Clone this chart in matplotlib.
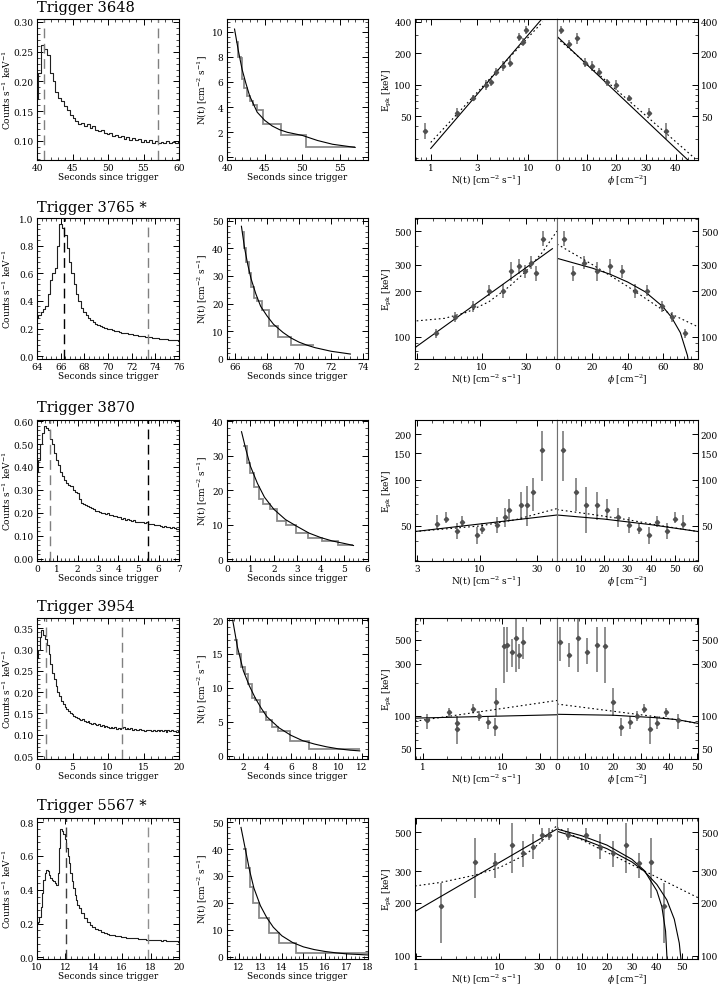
import numpy as np
import matplotlib
matplotlib.use('Agg')
import matplotlib.pyplot as plt
from matplotlib.ticker import (FixedLocator, AutoMinorLocator, LogLocator,
                               NullFormatter, FormatStrFormatter, FuncFormatter)

plt.rcParams['font.family'] = 'DejaVu Serif'
plt.rcParams['mathtext.fontset'] = 'dejavuserif'

titles = ['Trigger 3648', 'Trigger 3765 *', 'Trigger 3870', 'Trigger 3954', 'Trigger 5567 *']

# ---- light curves (counts s^-1 keV^-1) ----
lc1_t = 40.0 + 0.4 * np.arange(51)
lc1_v = [.170, .215, .262, .255, .245, .215, .200, .182, .172, .168, .158, .152, .143,
         .138, .133, .128, .131, .125, .128, .122, .125, .119, .117, .119, .113, .111,
         .113, .108, .110, .106, .108, .104, .106, .102, .105, .101, .103, .099, .102,
         .098, .101, .097, .100, .096, .099, .097, .100, .096, .099, .097, .099]
lc2_t = 64.0 + 0.2 * np.arange(61)
lc2_v = [.28, .30, .32, .34, .36, .45, .55, .60, .64, .80, .96, .93, .88, .78, .68, .60,
         .52, .45, .40, .35, .32, .295, .275, .26, .245, .235, .225, .22, .21, .205, .20,
         .195, .19, .185, .18, .175, .17, .168, .165, .16, .158, .156, .154, .15, .148,
         .145, .142, .14, .138, .135, .132, .13, .128, .126, .124, .122, .12, .118, .116,
         .114, .112]
lc3_t = 0.1 * np.arange(71)
lc3_v = [.38, .43, .50, .55, .58, .57, .56, .52, .50, .46, .43, .41, .38, .36, .345, .33,
         .32, .315, .30, .29, .285, .26, .245, .24, .235, .23, .225, .22, .215, .21, .21,
         .205, .20, .20, .195, .20, .19, .19, .185, .185, .18, .18, .175, .178, .17, .172,
         .168, .165, .168, .16, .162, .158, .16, .155, .158, .152, .15, .152, .148, .145,
         .148, .142, .14, .143, .138, .14, .135, .138, .132, .13, .128]
lc4_t = 0.25 * np.arange(81)
lc4_v = [.28, .30, .33, .345, .335, .325, .31, .29, .265, .245, .23, .215, .20, .19, .18,
         .172, .165, .16, .155, .152, .148, .145, .142, .14, .138, .135, .136, .132, .13,
         .132, .128, .126, .128, .124, .122, .124, .12, .122, .118, .12, .118, .116, .118,
         .115, .117, .114, .116, .113, .115, .117, .114, .116, .113, .115, .112, .114,
         .112, .110, .113, .111, .112, .109, .112, .110, .111, .108, .111, .109, .110,
         .108, .111, .109, .110, .107, .110, .108, .110, .108, .109, .107, .109]
lc5_t = [10.0, 10.1, 10.2, 10.3, 10.4, 10.5, 10.6, 10.7, 10.8, 10.9, 11.0, 11.1, 11.2,
         11.3, 11.4, 11.5, 11.6, 11.7, 11.8, 11.9, 12.0, 12.1, 12.2, 12.3, 12.4, 12.5,
         12.6, 12.7, 12.8, 12.9, 13.0, 13.2, 13.4, 13.6, 13.8, 14.0, 14.2, 14.4, 14.6,
         14.8, 15.0, 15.2, 15.4, 15.6, 15.8, 16.0, 16.2, 16.4, 16.6, 16.8, 17.0, 17.2,
         17.4, 17.6, 17.8, 18.0, 18.2, 18.4, 18.6, 18.8, 19.0, 19.2, 19.4, 19.6, 19.8, 20.0]
lc5_v = [.20, .21, .24, .30, .38, .46, .50, .52, .51, .49, .47, .46, .45, .44, .43, .50,
         .65, .76, .75, .73, .70, .65, .60, .56, .50, .45, .41, .37, .34, .31, .29, .26,
         .23, .21, .19, .18, .17, .16, .15, .145, .14, .135, .13, .128, .125, .122, .12,
         .117, .115, .113, .112, .11, .108, .106, .105, .104, .10, .102, .10, .099, .10,
         .098, .097, .095, .094, .093]
lc_dash = [(41.0, 57.0), (66.3, 73.4), (0.65, 5.45), (1.2, 12.0), (12.05, 17.8)]

# ---- N(t) decay: smooth curve and binned steps ----
nt1_t = [41, 41.5, 42, 42.5, 43, 44, 45, 46, 47, 48, 50, 52, 54, 57]
nt1_n = [10.2, 8.5, 7.0, 5.9, 4.9, 3.6, 2.95, 2.5, 2.2, 2.0, 1.75, 1.35, 1.05, 0.8]
st1_e = [41.2, 41.5, 41.8, 42.0, 42.3, 42.7, 43.0, 43.5, 44.0, 44.8, 47.1, 50.5, 57.0]
st1_n = [9.2, 8.0, 7.9, 6.2, 5.5, 4.9, 4.5, 4.2, 3.8, 2.65, 1.8, 0.8]
nt2_t = [66.4, 66.6, 66.8, 67.0, 67.3, 67.6, 68.0, 68.4, 69.0, 69.5, 70.0, 70.5, 71.0, 72.0, 73.2]
nt2_n = [48, 40, 34, 29, 23.5, 19, 15.5, 12.5, 9.5, 7.5, 6.0, 4.9, 4.0, 2.7, 1.7]
st2_e = [66.45, 66.55, 66.7, 66.85, 67.0, 67.2, 67.35, 67.7, 68.1, 68.7, 69.5, 70.9]
st2_n = [46, 40, 35, 31, 26, 22, 21, 17.5, 12, 8, 5]
nt3_t = [0.62, 0.8, 1.0, 1.3, 1.6, 2.0, 2.5, 3.0, 3.5, 4.0, 4.5, 5.0, 5.4]
nt3_n = [37, 32, 27, 22, 18, 14.5, 11.5, 9.5, 7.6, 6.3, 5.3, 4.6, 4.0]
st3_e = [0.7, 0.85, 1.0, 1.15, 1.35, 1.55, 1.85, 2.15, 2.5, 2.95, 3.45, 4.05, 4.75, 5.4]
st3_n = [33, 28, 25, 21, 17.5, 16, 14.5, 11, 10, 7.5, 6.3, 5.3, 4.2]
nt4_t = [1.1, 1.5, 2.0, 2.5, 3.0, 3.5, 4.0, 5.0, 6.0, 7.0, 8.0, 9.0, 10.0, 11.0, 11.8]
nt4_n = [20, 16, 12.5, 10.3, 8.5, 7.0, 5.7, 4.1, 3.0, 2.2, 1.7, 1.3, 1.0, 0.8, 0.7]
st4_e = [1.2, 1.5, 1.8, 2.1, 2.4, 2.7, 3.0, 3.4, 3.9, 4.4, 4.9, 5.9, 7.5, 11.8]
st4_n = [17, 15, 13, 12, 10.5, 8.5, 8.2, 6.5, 5.2, 4.2, 3.6, 2.1, 1.0]
nt5_t = [12.1, 12.3, 12.5, 12.7, 13.0, 13.3, 13.6, 14.0, 14.5, 15.0, 15.5, 16.0, 16.5, 17.0, 18.0]
nt5_n = [48, 40, 32, 25.5, 19, 14.5, 11, 7.8, 5.3, 3.7, 2.7, 2.0, 1.5, 1.1, 0.7]
st5_e = [12.2, 12.35, 12.5, 12.65, 12.95, 13.4, 13.85, 14.65, 18.0]
st5_n = [40, 33, 26, 20, 14.5, 9, 5, 1.5]

# ---- Epk vs N(t) ----
pn1_x = [0.87, 1.87, 2.69, 3.7, 4.1, 4.7, 5.5, 6.4, 8.0, 8.8, 9.5]
pn1_e = [36, 54, 74, 99, 105, 133, 150, 162, 285, 255, 335]
pn1_lo = [30, 49, 70, 88, 97, 122, 135, 148, 260, 235, 305]
pn1_hi = [43, 60, 79, 112, 113, 145, 168, 178, 310, 278, 365]
pn2_x = [3.2, 5.2, 8.1, 11.9, 17, 20.8, 25.1, 29.7, 34.1, 39, 46.4]
pn2_e = [105, 134, 159, 201, 201, 272, 292, 272, 308, 265, 445]
pn2_lo = [98, 124, 146, 185, 180, 235, 260, 245, 280, 235, 395]
pn2_hi = [112, 145, 172, 218, 222, 310, 325, 300, 340, 295, 500]
pn3_x = [4.4, 5.3, 6.5, 7.2, 9.5, 10.5, 14, 16.1, 17.7, 22, 25, 27.7, 33]
pn3_e = [51.2, 55.9, 46.5, 53.3, 43.7, 48, 50.5, 57, 64, 69, 69, 84, 158]
pn3_lo = [48, 52, 41, 49, 38, 44, 45, 49, 55, 55, 50, 63, 98]
pn3_hi = [59, 62, 52, 58, 49, 52, 57, 66, 75, 84, 91, 103, 210]
pn4_x = [1.1, 2.1, 2.7, 2.7, 4.2, 5.1, 6.5, 8.1, 8.3, 10.5, 11.4, 13.1, 14.9, 16.4, 18.1]
pn4_e = [90.6, 108, 85, 76, 116, 100, 87, 79, 135, 435, 450, 384, 515, 363, 480]
pn4_lo = [75, 98, 75, 55, 105, 90, 75, 65, 100, 200, 250, 280, 250, 270, 330]
pn4_hi = [104, 118, 100, 95, 128, 110, 100, 95, 180, 650, 650, 510, 800, 460, 650]
pn5_x = [2.0, 5.1, 8.9, 14.1, 19.4, 25.6, 32.3, 39.2]
pn5_e = [190, 339, 336, 424, 382, 412, 483, 483]
pn5_lo = [118, 211, 276, 294, 318, 354, 439, 450]
pn5_hi = [259, 462, 382, 560, 447, 489, 526, 525]

# ---- Epk vs fluence phi ----
pf1_x = [1.25, 4.0, 6.7, 9.3, 11.8, 14.1, 16.8, 19.8, 24.2, 30.8, 36.8]
pf1_e = [335, 245, 280, 162, 150, 133, 105, 99, 74, 54, 36]
pf1_lo = [305, 225, 245, 148, 135, 122, 97, 88, 70, 49, 30]
pf1_hi = [365, 265, 315, 178, 168, 145, 113, 112, 79, 60, 43]
pf2_x = [4.0, 9.3, 15.5, 22.5, 30, 36.6, 44.1, 51.2, 59.3, 65.5, 72.5]
pf2_e = [445, 265, 308, 272, 292, 272, 201, 201, 159, 134, 105]
pf2_lo = [395, 235, 280, 235, 260, 245, 180, 185, 146, 124, 98]
pf2_hi = [500, 295, 340, 310, 325, 300, 222, 218, 172, 145, 112]
pf3_x = [2.7, 8.0, 12.3, 16.9, 21.3, 25.9, 30.6, 34.9, 39, 42.7, 46.6, 50.3, 53.7]
pf3_e = [158, 84, 69, 69, 64, 57, 50.5, 48, 43.7, 53.3, 46.5, 55.9, 51.2]
pf3_lo = [98, 63, 45, 55, 55, 49, 45, 44, 38, 49, 41, 52, 48]
pf3_hi = [210, 103, 90, 84, 75, 66, 57, 52, 49, 58, 52, 62, 59]
pf4_x = [1.0, 4.4, 7.6, 10.8, 14.2, 17.1, 20, 23, 26, 28.8, 31.1, 33.4, 35.8, 38.9, 43.3]
pf4_e = [480, 363, 515, 384, 450, 435, 135, 79, 87, 100, 116, 76, 85, 108, 90.6]
pf4_lo = [320, 280, 250, 300, 250, 200, 100, 65, 75, 90, 105, 55, 75, 98, 75]
pf4_hi = [650, 470, 800, 520, 650, 650, 180, 95, 100, 110, 128, 95, 100, 118, 104]
pf5_x = [4.3, 11.5, 17.1, 22.3, 27.6, 33, 37.7, 43]
pf5_e = [483, 483, 412, 382, 424, 336, 339, 190]
pf5_lo = [450, 439, 354, 318, 294, 276, 211, 118]
pf5_hi = [525, 526, 489, 447, 560, 382, 462, 259]

# ---- fitted relations (solid and dotted) ----
fn1 = ([1.0, 13.7], [24.5, 425], [1.0, 14.0], [28, 400])
fn2 = ([1.95, 58], [85, 382], [2, 4, 7, 12, 20, 30, 45, 65], [127, 132, 145, 170, 215, 270, 360, 500])
fn3 = ([2.9, 44], [46, 59], [2.9, 10, 20, 30, 44], [46, 50, 55, 60, 65])
fn4 = ([0.79, 49], [95, 102], [0.79, 49], [89, 138])
fn5 = ([0.97, 49], [178, 520], [0.97, 2, 5, 10, 20, 30, 49], [248, 260, 285, 315, 370, 430, 545])
ff1 = ([0, 44], [290, 19], [0, 46.5], [280, 19.5])
ff2 = ([0, 10, 20, 30, 40, 50, 60, 65, 70, 74, 76], [330, 306, 284, 259, 230, 198, 158, 134, 106, 75, 53],
       [0, 20, 40, 60, 80], [410, 300, 215, 150, 116])
ff3 = ([0, 20, 40, 60], [59, 55.5, 51, 46], [0, 15, 30, 45, 60], [64, 59.5, 55, 50, 46])
ff4 = ([0, 20, 35, 43, 50.5], [103, 101, 96, 92, 85], [0, 20, 38, 50.5], [128, 110, 96, 85])
ff5 = ([0, 10, 20, 30, 35, 40, 44, 47, 49, 50], [505, 457, 403, 339, 300, 253, 207, 161, 118, 86],
       [0, 56.5], [530, 213])
ff5b = ([0, 10, 20, 30, 35, 40, 42, 43.5, 44.2], [520, 476, 422, 351, 303, 233, 190, 138, 90])

lc_t = [lc1_t, lc2_t, lc3_t, lc4_t, lc5_t]
lc_v = [lc1_v, lc2_v, lc3_v, lc4_v, lc5_v]
nt_t = [nt1_t, nt2_t, nt3_t, nt4_t, nt5_t]
nt_n = [nt1_n, nt2_n, nt3_n, nt4_n, nt5_n]
st_e = [st1_e, st2_e, st3_e, st4_e, st5_e]
st_n = [st1_n, st2_n, st3_n, st4_n, st5_n]
pn = [(pn1_x, pn1_e, pn1_lo, pn1_hi), (pn2_x, pn2_e, pn2_lo, pn2_hi), (pn3_x, pn3_e, pn3_lo, pn3_hi),
      (pn4_x, pn4_e, pn4_lo, pn4_hi), (pn5_x, pn5_e, pn5_lo, pn5_hi)]
pf = [(pf1_x, pf1_e, pf1_lo, pf1_hi), (pf2_x, pf2_e, pf2_lo, pf2_hi), (pf3_x, pf3_e, pf3_lo, pf3_hi),
      (pf4_x, pf4_e, pf4_lo, pf4_hi), (pf5_x, pf5_e, pf5_lo, pf5_hi)]
fn = [fn1, fn2, fn3, fn4, fn5]
ff = [ff1, ff2, ff3, ff4, ff5]

# ---- axis settings per row ----
lc_xlim = [(40, 60), (64, 76), (0, 7), (0, 20), (10, 20)]
lc_ylim = [(0.068, 0.305), (-0.02, 1.0), (-0.01, 0.605), (0.043, 0.374), (-0.01, 0.825)]
lc_xt = [np.arange(40, 61, 5), np.arange(64, 77, 2), np.arange(0, 8, 1), np.arange(0, 21, 5), np.arange(10, 21, 2)]
lc_yt = [np.arange(0.10, 0.31, 0.05), np.arange(0, 1.01, 0.2), np.arange(0, 0.61, 0.1),
         np.arange(0.05, 0.36, 0.05), np.arange(0, 0.81, 0.2)]
lc_fmt = ['%.2f', '%.1f', '%.2f', '%.2f', '%.1f']
dash_col = [('#808080', '#808080'), ('#000000', '#808080'), ('#808080', '#000000'),
            ('#808080', '#808080'), ('#404040', '#909090')]
nt_xlim = [(40, 58.7), (65.5, 74.3), (0, 6.02), (0.62, 12.5), (11.45, 18.0)]
nt_ylim = [(-0.2, 11), (-0.1, 51), (-0.5, 40.4), (-0.5, 20.3), (-0.8, 51.5)]
nt_xt = [np.arange(40, 56, 5), np.arange(66, 75, 2), np.arange(0, 7, 1), np.arange(2, 13, 2), np.arange(12, 19, 1)]
nt_yt = [np.arange(0, 11, 2), np.arange(0, 51, 10), np.arange(0, 41, 10), np.arange(0, 21, 5), np.arange(0, 51, 10)]
ep_ylim = [(19, 425), (71, 610), (29.5, 247), (40, 790), (96, 600)]
ep_yt = [[50, 100, 200, 400], [100, 200, 300, 500], [50, 100, 150, 200], [50, 100, 300, 500], [100, 200, 300, 500]]
pn_xlim = [(0.69, 19.6), (1.92, 65), (2.9, 44), (0.785, 49), (0.97, 49)]
pn_xt = [[1, 3, 10], [2, 10, 30], [3, 10, 30], [1, 10, 30], [1, 10, 30]]
pf_xlim = [(0, 47.4), (0, 80), (0, 60), (0, 50.5), (0, 56.5)]
pf_xt = [np.arange(0, 41, 10), np.arange(0, 81, 20), np.arange(0, 61, 10), np.arange(0, 51, 10), np.arange(0, 51, 10)]

W, H = 719, 987
fig = plt.figure(figsize=(W / 100, H / 100), dpi=100)
tops = [20, 219, 421, 619, 819]
title_y = [12, 212, 412, 611, 810]
ts = 6.5
ls = 6.5
gray = '#707070'


def box(x, y, w, h):
    return fig.add_axes([x / W, 1 - (y + h) / H, w / W, h / H])


def ticks(ax):
    ax.tick_params(which='both', direction='in', top=True, right=True, labelsize=ts, pad=2.5)
    ax.tick_params(axis='x', pad=2)
    ax.tick_params(which='major', length=4.5, width=0.7)
    ax.tick_params(which='minor', length=2.2, width=0.5)
    for s in ax.spines.values():
        s.set_linewidth(0.8)


def plain(v, pos):
    return '%g' % v


for r in range(5):
    top = tops[r]
    fig.text(37 / W, 1 - title_y[r] / H, titles[r], fontsize=10.5, family='DejaVu Serif',
             va='baseline', ha='left')

    # light curve
    ax = box(37, top, 142, 141)
    ax.step(lc_t[r], lc_v[r], where='mid', color='#202020', lw=0.8)
    for k, xd in enumerate(lc_dash[r]):
        ax.axvline(xd, color=dash_col[r][k], lw=1.0, ls=(0, (7, 4)))
    ax.set_xlim(lc_xlim[r])
    ax.set_ylim(lc_ylim[r])
    ax.set_xticks(lc_xt[r])
    ax.set_yticks(lc_yt[r])
    ax.yaxis.set_major_formatter(FormatStrFormatter(lc_fmt[r]))
    ax.xaxis.set_minor_locator(AutoMinorLocator(5))
    ax.yaxis.set_minor_locator(AutoMinorLocator(5))
    ticks(ax)
    ax.set_xlabel('Seconds since trigger', fontsize=ls, labelpad=0.5)
    ax.set_ylabel('Counts s$^{-1}$ keV$^{-1}$', fontsize=ls)
    ax.yaxis.set_label_coords(-0.168, 0.5)

    # N(t) decay
    ax = box(227, top, 141, 141)
    ax.stairs(st_n[r], st_e[r], color='#8a8a8a', lw=1.3, baseline=None)
    ax.plot(nt_t[r], nt_n[r], color='black', lw=0.8)
    ax.set_xlim(nt_xlim[r])
    ax.set_ylim(nt_ylim[r])
    ax.set_xticks(nt_xt[r])
    ax.set_yticks(nt_yt[r])
    ax.xaxis.set_minor_locator(AutoMinorLocator(5))
    ax.yaxis.set_minor_locator(AutoMinorLocator(5))
    ticks(ax)
    ax.set_xlabel('Seconds since trigger', fontsize=ls, labelpad=0.5)
    ax.set_ylabel('N(t) [cm$^{-2}$ s$^{-1}$]', fontsize=ls)
    ax.yaxis.set_label_coords(-0.13, 0.5)

    # Epk vs N(t)
    ax = box(415, top, 142, 141)
    x, e, lo, hi = pn[r]
    e = np.array(e)
    ax.errorbar(x, e, yerr=[e - np.array(lo), np.array(hi) - e], fmt='D', ms=2.2,
                color='#505050', ecolor=gray, elinewidth=1.1, capsize=0)
    ax.plot(fn[r][0], fn[r][1], color='black', lw=0.8)
    ax.plot(fn[r][2], fn[r][3], color='black', lw=0.8, ls=(0, (1.5, 2.5)))
    ax.set_xscale('log')
    ax.set_yscale('log')
    ax.set_xlim(pn_xlim[r])
    ax.set_ylim(ep_ylim[r])
    ax.xaxis.set_major_locator(FixedLocator(pn_xt[r]))
    ax.xaxis.set_major_formatter(FuncFormatter(plain))
    ax.yaxis.set_major_locator(FixedLocator(ep_yt[r]))
    ax.yaxis.set_major_formatter(FuncFormatter(plain))
    ax.xaxis.set_minor_locator(LogLocator(base=10, subs=np.arange(2, 10)))
    ax.yaxis.set_minor_locator(LogLocator(base=10, subs=np.arange(2, 10)))
    ax.xaxis.set_minor_formatter(NullFormatter())
    ax.yaxis.set_minor_formatter(NullFormatter())
    ticks(ax)
    ax.tick_params(which='both', right=False)
    ax.spines['right'].set_color(gray)
    ax.set_xlabel('N(t) [cm$^{-2}$ s$^{-1}$]', fontsize=ls, labelpad=0.5)
    ax.set_ylabel('E$_{\\rm pk}$ [keV]', fontsize=ls)
    ax.yaxis.set_label_coords(-0.15, 0.5)

    # Epk vs fluence
    ax = box(557, top, 141, 141)
    x, e, lo, hi = pf[r]
    e = np.array(e)
    ax.errorbar(x, e, yerr=[e - np.array(lo), np.array(hi) - e], fmt='D', ms=2.2,
                color='#505050', ecolor=gray, elinewidth=1.1, capsize=0)
    ax.plot(ff[r][0], ff[r][1], color='black', lw=0.8)
    if r == 4:
        ax.plot(ff5b[0], ff5b[1], color='black', lw=0.8)
    ax.plot(ff[r][2], ff[r][3], color='black', lw=0.8, ls=(0, (1.5, 2.5)))
    ax.set_yscale('log')
    ax.set_xlim(pf_xlim[r])
    ax.set_ylim(ep_ylim[r])
    ax.set_xticks(pf_xt[r])
    ax.xaxis.set_minor_locator(AutoMinorLocator(5))
    ax.yaxis.set_major_locator(FixedLocator(ep_yt[r]))
    ax.yaxis.set_major_formatter(FuncFormatter(plain))
    ax.yaxis.set_minor_locator(LogLocator(base=10, subs=np.arange(2, 10)))
    ax.yaxis.set_minor_formatter(NullFormatter())
    ticks(ax)
    ax.tick_params(which='both', left=False, labelleft=False, labelright=True)
    ax.tick_params(axis='y', pad=2)
    ax.spines['left'].set_color(gray)
    ax.set_xlabel('$\\phi$ [cm$^{-2}$]', fontsize=ls, labelpad=0.5)

fig.savefig('out.png', dpi=100)
